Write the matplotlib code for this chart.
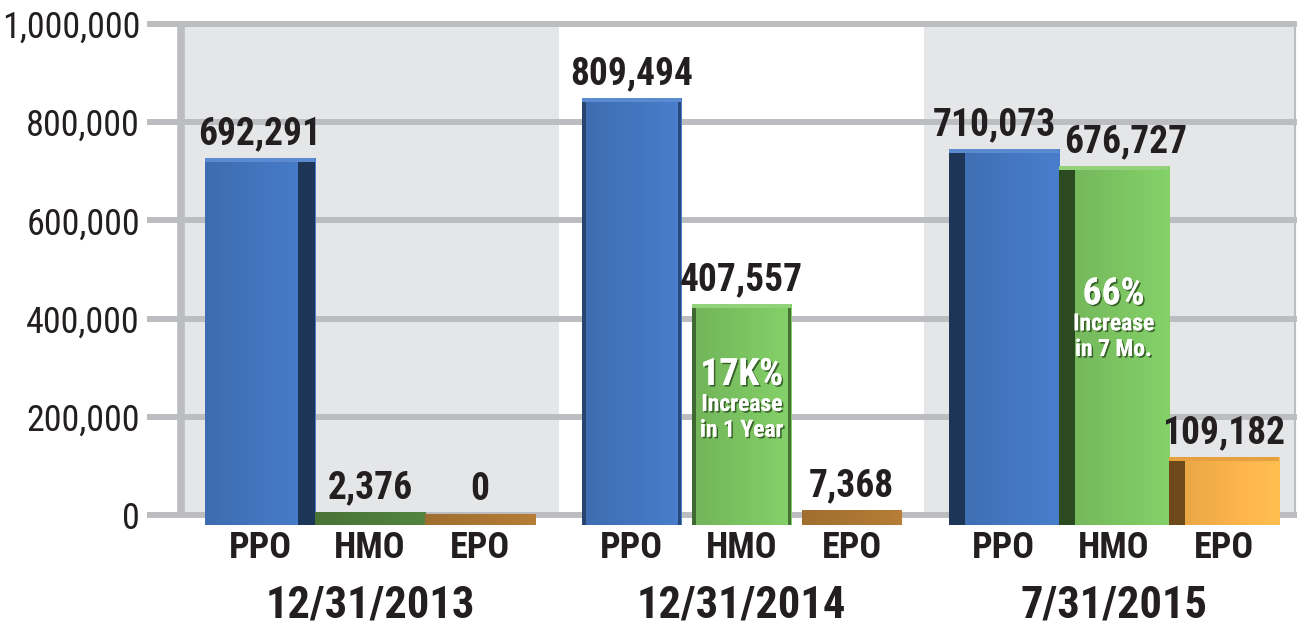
import matplotlib
matplotlib.use("Agg")
import matplotlib.pyplot as plt
import matplotlib.patheffects as pe
import matplotlib.colors as mcolors
from matplotlib import font_manager
from matplotlib.patches import Rectangle
import numpy as np

# data
dates = ["12/31/2013", "12/31/2014", "7/31/2015"]
plans = ["PPO", "HMO", "EPO"]
ppo = [692291, 809494, 710073]
hmo = [2376, 407557, 676727]
epo = [0, 7368, 109182]
# (group, plan, big text, small text)
notes = [(1, 1, "17K%", "Increase\nin 1 Year"),
         (2, 1, "66%", "Increase\nin 7 Mo.")]

# pick a narrow font if there is one
names = {f.name for f in font_manager.fontManager.ttflist}
narrow = next((n for n in ["Roboto Condensed", "Liberation Sans Narrow",
                           "Open Sans Condensed", "DejaVu Sans Condensed"]
               if n in names), "Liberation Sans")

ink = "#231f20"
grid = "#bcbdc0"
panel = "#e5e6e8"
face = ["#4376bf", "#7cc462", "#f9b24b"]
side = ["#1d3557", "#2c4a20", "#6e4a1a"]
cap = ["#5c8ad0", "#92d27a", "#e6a03f"]
slab = ["#3f6fb0", "#4c7a3a", "#a87432"]

fig = plt.figure(figsize=(12.97, 6.29), dpi=100)
ax = fig.add_axes([147/1297, (629-539.55)/629, 1150/1297, 520.5/629])
xlim = (-1.027, 9.427)
ylim = (-50000, 1010000)

gap = 3.38
widths = [1.0, 0.9, 1.0]
right_edge = 9.41


def shade(bar, c, lo=0.92, hi=1.07):
    # horizontal gradient clipped to the bar
    x0, y0 = bar.get_x(), bar.get_y()
    w, h = bar.get_width(), bar.get_height()
    rgb = np.array(mcolors.to_rgb(c))
    t = np.linspace(lo, hi, 64)
    img = np.clip(rgb[None, :]*t[:, None], 0, 1)[None, :, :]
    im = ax.imshow(img, extent=(x0, x0+w, y0, y0+h), aspect="auto",
                   zorder=bar.get_zorder()+0.1, interpolation="bilinear")
    im.set_clip_path(bar)


# panel backgrounds (first and last gray)
for g in (0, 2):
    c = g*gap + 1
    x0 = c - 1.72
    x1 = min(c + 1.72, right_edge)
    ax.add_patch(Rectangle((x0, 0), x1-x0, 1e6, color=panel, zorder=0, lw=0))

ticks = np.arange(0, 1000001, 200000)
for t in ticks:
    ax.axhline(t, color=grid, lw=4.3, zorder=1)
ax.plot([-0.72, -0.72], [0, 1e6], color=grid, lw=5.5, zorder=1,
        solid_capstyle="butt")
ax.plot([right_edge, right_edge], [0, 1e6], color=grid, lw=1.5, zorder=1)

# small sideways nudges (points) for crowded labels
nudge = {(2, 0): -7, (2, 1): 9}

values = np.array([ppo, hmo, epo]).T
bottom = -21000
for g in range(3):
    w = widths[g]
    for j in range(3):
        v = values[g][j]
        x = g*gap + j
        top = v*1.045 + 3000
        if v < 20000:
            b = ax.bar(x, top-bottom, bottom=bottom, width=w, color=slab[j],
                       zorder=3, lw=0)[0]
            shade(b, slab[j], 0.95, 1.08)
        else:
            b = ax.bar(x, top-bottom, bottom=bottom, width=w, color=face[j],
                       zorder=3, lw=0)[0]
            shade(b, face[j])
            sw = [0.15, 0.03, 0.15][g]
            if g == 0:
                ax.bar(x + w/2 - sw/2, top-bottom-6000, bottom=bottom,
                       width=sw, color=side[j], zorder=4, lw=0)
            elif g == 2:
                ax.bar(x - w/2 + sw/2, top-bottom-6000, bottom=bottom,
                       width=sw, color=side[j], zorder=4, lw=0)
            else:
                for s in (-1, 1):
                    ax.bar(x + s*(w/2 - sw/2), top-bottom, bottom=bottom,
                           width=sw, color=side[j], zorder=4, lw=0, alpha=0.7)
            ax.bar(x, 7000, bottom=top-7000, width=w, color=cap[j],
                   zorder=5, lw=0)
        ax.annotate(f"{v:,}", (x, top), xytext=(nudge.get((g, j), 0), 10),
                    textcoords="offset points", ha="center", va="baseline",
                    fontsize=27, fontweight="bold", family=narrow, color=ink,
                    zorder=6)
        ax.annotate(plans[j], (x, 0), xytext=(0, -31),
                    textcoords="offset points", ha="center", va="baseline",
                    fontsize=26, fontweight="bold", family=narrow, color=ink)
    ax.annotate(dates[g], (g*gap + 1, 0), xytext=(0, -74),
                textcoords="offset points", ha="center", va="baseline",
                fontsize=32, fontweight="bold", family=narrow, color=ink,
                annotation_clip=False)

shadow = [pe.withSimplePatchShadow(offset=(1.2, -1.2), shadow_rgbFace="#1f3a14",
                                   alpha=0.7), pe.Normal()]
for g, j, big, small in notes:
    x = g*gap + j
    y = values[g][j]*0.61
    ax.text(x, y, big, ha="center", va="bottom", fontsize=27,
            fontweight="bold", family=narrow, color="white",
            path_effects=shadow, zorder=7)
    ax.text(x, y, small, ha="center", va="top", fontsize=17,
            fontweight="bold", family=narrow, color="white",
            linespacing=1.15, path_effects=shadow, zorder=7)

ax.set_xlim(*xlim)
ax.set_ylim(*ylim)
ax.set_yticks(ticks)
ax.set_yticklabels([f"{t:,}" for t in ticks])
for lbl in ax.get_yticklabels():
    lbl.set_family(narrow)
ax.tick_params(axis="y", length=0, pad=5, labelsize=26, labelcolor=ink)
ax.set_xticks([])
for s in ax.spines.values():
    s.set_visible(False)

fig.savefig("out.png", dpi=100)
